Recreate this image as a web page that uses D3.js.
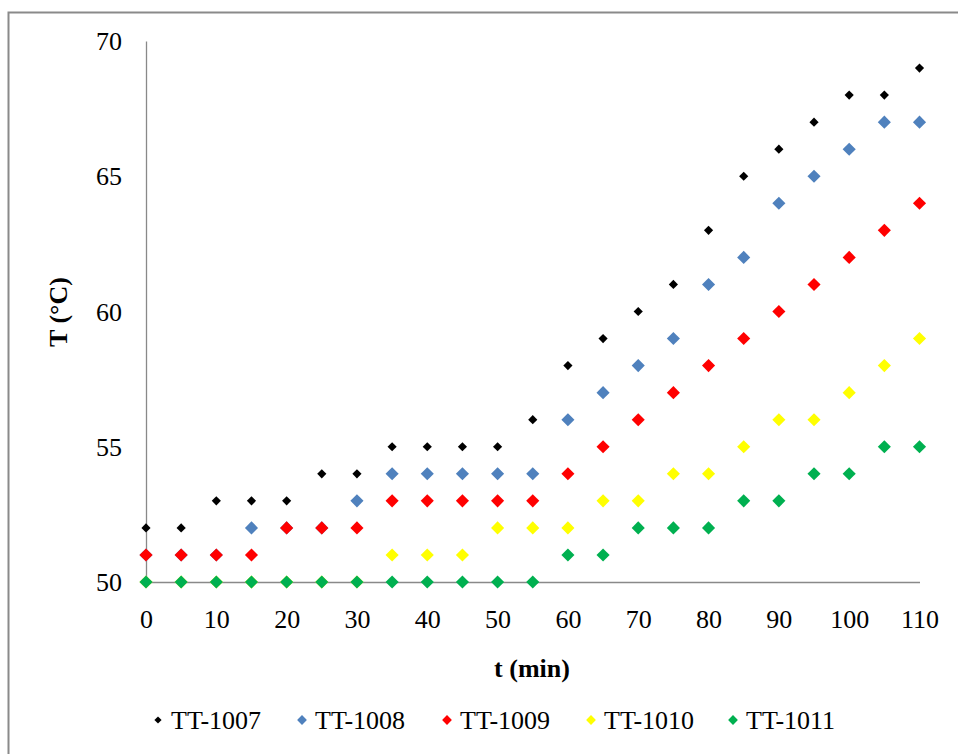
<!DOCTYPE html>
<html>
<head>
<meta charset="utf-8">
<script src="https://cdn.jsdelivr.net/npm/d3@7"></script>
<style>
  body { margin: 0; background: #fff; }
  text { font-family: "Liberation Serif", "Times New Roman", serif; fill: #000; }
</style>
</head>
<body>
<div id="chart"></div>
<script>
var w = 958,
    h = 754;

var minutes = [0, 5, 10, 15, 20, 25, 30, 35, 40, 45, 50, 55, 60, 65, 70, 75, 80, 85, 90, 95, 100, 105, 110];
var xTicks = [0, 10, 20, 30, 40, 50, 60, 70, 80, 90, 100, 110];
var yTicks = [50, 55, 60, 65, 70];

var tt1007 = [52, 52, 53, 53, 53, 54, 54, 55, 55, 55, 55, 56, 58, 59, 60, 61, 63, 65, 66, 67, 68, 68, 69];
var tt1008 = [51, 51, 51, 52, 52, 52, 53, 54, 54, 54, 54, 54, 56, 57, 58, 59, 61, 62, 64, 65, 66, 67, 67];
var tt1009 = [51, 51, 51, 51, 52, 52, 52, 53, 53, 53, 53, 53, 54, 55, 56, 57, 58, 59, 60, 61, 62, 63, 64];
var tt1010 = [50, 50, 50, 50, 50, 50, 50, 51, 51, 51, 52, 52, 52, 53, 53, 54, 54, 55, 56, 56, 57, 58, 59];
var tt1011 = [50, 50, 50, 50, 50, 50, 50, 50, 50, 50, 50, 50, 51, 51, 52, 52, 52, 53, 53, 54, 54, 55, 55];

var seriesNames = ["TT-1007", "TT-1008", "TT-1009", "TT-1010", "TT-1011"];
var seriesValues = [tt1007, tt1008, tt1009, tt1010, tt1011];
var colors = ["#000000", "#4f81bd", "#ff0000", "#ffff00", "#00b050"];

var x = d3.scaleLinear().domain([0, 110]).range([146, 919.5]),
    y = d3.scaleLinear().domain([50, 70]).range([582, 41]);

var svg = d3.select("#chart").append("svg")
    .attr("width", w)
    .attr("height", h);

// outer frame (runs off the right and bottom edges)
svg.append("rect")
    .attr("x", 8.5).attr("y", 12.5)
    .attr("width", 1000).attr("height", 1000)
    .attr("fill", "none")
    .attr("stroke", "#8a8a8a")
    .attr("stroke-width", 2);

// axes
var xAxis = d3.axisBottom(x).tickValues(xTicks).tickSize(0).tickPadding(28);
var yAxis = d3.axisLeft(y).tickValues(yTicks).tickSize(0).tickPadding(24);

var gx = svg.append("g").attr("transform", "translate(0," + y(50) + ")").call(xAxis);
var gy = svg.append("g").attr("transform", "translate(" + x(0) + ",0)").call(yAxis);

[gx, gy].forEach(function(g) {
  g.select(".domain").attr("stroke", "#898989").attr("stroke-width", 1.3);
  g.selectAll("text")
      .style("font-family", "'Liberation Serif', 'Times New Roman', serif")
      .style("font-size", "26px")
      .attr("fill", "#000");
});
gy.selectAll("text").attr("dy", "0.33em");

// axis titles
svg.append("text")
    .attr("x", 532).attr("y", 677)
    .attr("text-anchor", "middle")
    .style("font-size", "26px").style("font-weight", "bold")
    .text("t (min)");

svg.append("text")
    .attr("transform", "translate(67,312) rotate(-90)")
    .attr("text-anchor", "middle")
    .style("font-size", "26px").style("font-weight", "bold")
    .text("T (°C)");

// markers
var diamond = function(size) {
  return d3.symbol().type(d3.symbolSquare).size(size)();
};

seriesValues.forEach(function(vals, i) {
  var size = i === 0 ? 42 : 86;
  svg.append("g")
      .selectAll("path")
      .data(vals)
    .enter().append("path")
      .attr("d", diamond(size))
      .attr("fill", colors[i])
      .attr("transform", function(d, j) {
        return "translate(" + x(minutes[j]) + "," + y(d) + ")rotate(45)";
      });
});

// legend
var legendX = [158, 302, 447, 591, 733];
var legend = svg.append("g").selectAll("g")
    .data(seriesNames)
  .enter().append("g")
    .attr("transform", function(d, i) { return "translate(" + legendX[i] + ",720)"; });

legend.append("path")
    .attr("d", function(d, i) { return diamond(i === 0 ? 26 : 48); })
    .attr("fill", function(d, i) { return colors[i]; })
    .attr("transform", "rotate(45)");

legend.append("text")
    .attr("x", 13)
    .attr("dy", "0.34em")
    .style("font-size", "26px")
    .text(function(d) { return d; });
</script>
</body>
</html>
